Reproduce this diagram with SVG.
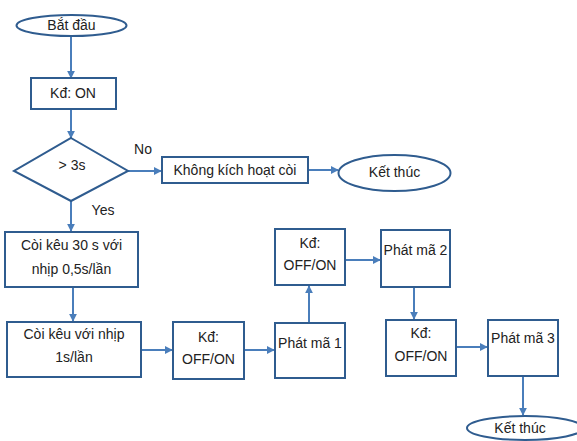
<svg xmlns="http://www.w3.org/2000/svg" width="577" height="441" viewBox="0 0 577 441">
<defs>
<marker id="ah" viewBox="0 0 10 10" refX="9" refY="5" markerWidth="8" markerHeight="8" markerUnits="userSpaceOnUse" orient="auto">
<path d="M0,0 L10,5 L0,10 z" fill="#4A7EBB"/>
</marker>
<style>
.n{fill:#fff;stroke:#2F5C8F;stroke-width:2}
.t{font-family:"Liberation Sans",Arial,sans-serif;font-size:14px;fill:#222;text-anchor:middle;dominant-baseline:central}
.l{font-family:"Liberation Sans",Arial,sans-serif;font-size:14px;fill:#222;text-anchor:middle;dominant-baseline:central}
.c{fill:none;stroke:#4A7EBB;stroke-width:2;marker-end:url(#ah)}
</style>
</defs>
<rect width="577" height="441" fill="#fff"/>
<g id="connectors">
<path class="c" d="M71,36 V78"/>
<path class="c" d="M71,109 V138"/>
<path class="c" d="M128,171 H161"/>
<path class="c" d="M308,170 H338"/>
<path class="c" d="M71,201 V231"/>
<path class="c" d="M73,287 V321"/>
<path class="c" d="M141,350 H172"/>
<path class="c" d="M244,350 H274"/>
<path class="c" d="M309,323 V286"/>
<path class="c" d="M345,260 H380"/>
<path class="c" d="M414,287 V319"/>
<path class="c" d="M456,347 H487"/>
<path class="c" d="M523,376 V415"/>
<text class="l" x="143" y="149">No</text>
<text class="l" x="103" y="210">Yes</text>
</g>
<g id="start"><ellipse class="n" cx="71.5" cy="25.5" rx="55" ry="10.5"/><text class="t" x="71.5" y="25">Bắt đầu</text></g>
<g id="kd-on"><rect class="n" x="31" y="78" width="85" height="31"/><text class="t" x="73" y="93">Kđ: ON</text></g>
<g id="decision"><polygon class="n" points="71,138 128,171 71,201 14,171"/><text class="t" x="72" y="165">&gt; 3s</text></g>
<g id="no-alarm"><rect class="n" x="162" y="157" width="146" height="26"/><text class="t" x="235" y="170">Không kích hoạt còi</text></g>
<g id="end1"><ellipse class="n" cx="394.5" cy="173" rx="56" ry="18"/><text class="t" x="394.5" y="172">Kết thúc</text></g>
<g id="alarm30"><rect class="n" x="5" y="232" width="133" height="55"/><text class="t" x="71.5" y="245">Còi kêu 30 s với</text><text class="t" x="71.5" y="269">nhịp 0,5s/lần</text></g>
<g id="alarm1"><rect class="n" x="7" y="322" width="134" height="55"/><text class="t" x="74" y="334">Còi kêu với nhịp</text><text class="t" x="74" y="357">1s/lần</text></g>
<g id="kd1"><rect class="n" x="173" y="322" width="71" height="57"/><text class="t" x="208.5" y="337">Kđ:</text><text class="t" x="208.5" y="359">OFF/ON</text></g>
<g id="ma1"><rect class="n" x="275" y="323" width="70" height="55"/><text class="t" x="310" y="343">Phát mã 1</text></g>
<g id="kd2"><rect class="n" x="275" y="229" width="70" height="56"/><text class="t" x="310" y="243">Kđ:</text><text class="t" x="310" y="265">OFF/ON</text></g>
<g id="ma2"><rect class="n" x="381" y="230" width="69" height="57"/><text class="t" x="415.5" y="250">Phát mã 2</text></g>
<g id="kd3"><rect class="n" x="386" y="320" width="70" height="56"/><text class="t" x="421" y="333">Kđ:</text><text class="t" x="421" y="356">OFF/ON</text></g>
<g id="ma3"><rect class="n" x="488" y="320" width="70" height="56"/><text class="t" x="523" y="338">Phát mã 3</text></g>
<g id="end2"><ellipse class="n" cx="525" cy="428" rx="58" ry="12"/><text class="t" x="520" y="428">Kết thúc</text></g>
</svg>
